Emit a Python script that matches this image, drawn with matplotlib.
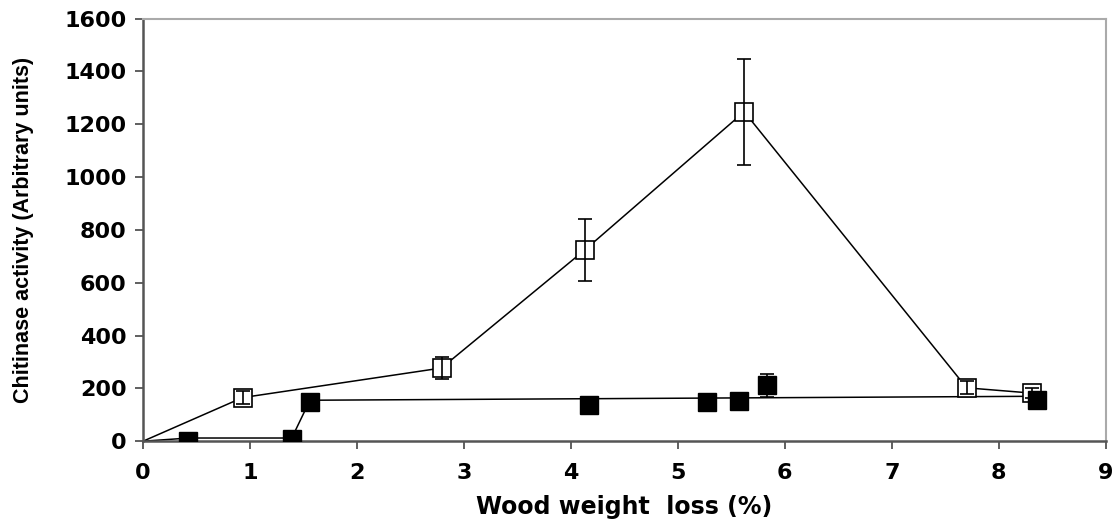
import matplotlib
matplotlib.use("Agg")
import matplotlib.pyplot as plt

# open squares
open_x = [0.0, 0.93, 2.79, 4.13, 5.62, 7.70, 8.31]
open_y = [0, 165, 277, 724, 1247, 202, 182]
open_err = [0, 25, 43, 117, 200, 25, 18]

# filled squares
fill_x = [0.42, 1.39, 1.56, 4.17, 5.27, 5.57, 5.83, 8.36]
fill_y = [0, 8, 148, 136, 150, 152, 212, 155]
fill_err = [0, 0, 15, 15, 25, 25, 43, 25]

# line drawn through the filled series
fill_line_x = [0.0, 0.43, 1.39, 1.56, 8.35]
fill_line_y = [0, 12, 12, 155, 170]

plt.rcParams['font.family'] = ['DejaVu Sans']

fig = plt.figure(figsize=(11.18, 5.29), dpi=100)
ax = fig.add_axes([0.128, 0.166, 0.861, 0.799])

# open series: line, markers, then error bars on top of markers
ax.plot(open_x, open_y, color='black', lw=1.1, zorder=2)
ax.plot(open_x[1:], open_y[1:], 's', ms=13, mfc='white', mec='black',
        mew=1.2, zorder=3)
ax.errorbar(open_x[1:], open_y[1:], yerr=open_err[1:], fmt='none',
            ecolor='black', elinewidth=1.2, capsize=5, capthick=1.2, zorder=4)

ax.plot(fill_line_x, fill_line_y, color='black', lw=1.1, zorder=2)
ax.errorbar(fill_x, fill_y, yerr=fill_err, fmt='s', ms=13,
            mfc='black', mec='black', ecolor='black', elinewidth=1.2,
            capsize=5, capthick=1.2, zorder=5)

ax.set_xlim(0, 9)
ax.set_ylim(0, 1600)
ax.set_xticks(range(0, 10))
ax.set_yticks(range(0, 1601, 200))
ax.tick_params(axis='both', direction='out', length=6, width=1.2,
               labelsize=16, color='#444444')
ax.tick_params(axis='y', pad=6)
ax.tick_params(axis='x', pad=10)
for lab in ax.get_xticklabels() + ax.get_yticklabels():
    lab.set_fontweight('bold')

for s in ['left', 'bottom']:
    ax.spines[s].set_color('#555555')
    ax.spines[s].set_linewidth(1.8)
for s in ['top', 'right']:
    ax.spines[s].set_color('#aaaaaa')
    ax.spines[s].set_linewidth(1.5)

ax.set_xlabel('Wood weight  loss (%)', fontsize=17, fontweight='bold', labelpad=8)
ax.set_ylabel('Chitinase activity (Arbitrary units)', fontsize=15.5,
              fontweight='bold', family='Liberation Sans', labelpad=22)

fig.savefig('out.png', dpi=100, facecolor='white')
